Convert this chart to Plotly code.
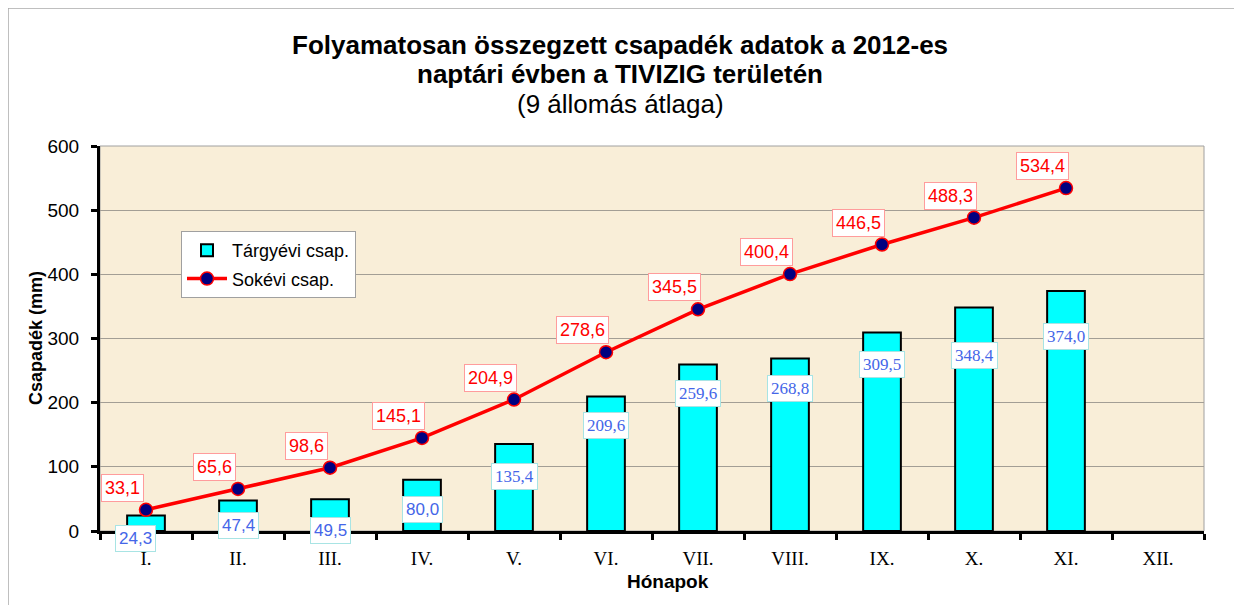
import plotly.graph_objects as go

months = ["I.", "II.", "III.", "IV.", "V.", "VI.", "VII.", "VIII.", "IX.", "X.", "XI.", "XII."]
targyevi = [24.3, 47.4, 49.5, 80.0, 135.4, 209.6, 259.6, 268.8, 309.5, 348.4, 374.0, None]
sokevi = [33.1, 65.6, 98.6, 145.1, 204.9, 278.6, 345.5, 400.4, 446.5, 488.3, 534.4, None]
y_ticks = [0, 100, 200, 300, 400, 500, 600]
title_lines = ["<b>Folyamatosan összegzett csapadék adatok a 2012-es</b>",
               "<b>naptári évben a TIVIZIG területén</b>",
               "(9 állomás átlaga)"]

# label styling (pixel offsets below bar tops, fonts)
bar_label_drop = [23, 25, 31, 30, 32, 29, 29, 30, 32, 48, 45]
bar_label_fonts = ["Liberation Sans"] * 4 + ["Liberation Serif"] * 7

def fmt(v):
    return f"{v:.1f}".replace(".", ",")

# page offset of the figure inside the browser page (body margin)
OFF = 8
W, H = 1242 - OFF, 605 - OFF
# plot area in page pixels
PL, PR, PT, PB = 100, 1204, 146, 531
L, R, T = PL - OFF, W - (PR - OFF), PT - OFF
B = H - (PB - OFF)
pw, ph = W - L - R, H - T - B

def px_x(p):  # page px -> paper x
    return (p - OFF - L) / pw

def px_y(p):  # page px -> paper y
    return (PB - p) / ph

fig = go.Figure()
fig.add_trace(go.Bar(
    x=months, y=targyevi, name="Tárgyévi csap.",
    marker=dict(color="#00FFFF", line=dict(color="black", width=2)),
    legendgroup="a",
))
fig.add_trace(go.Scatter(
    x=months, y=sokevi, name="Sokévi csap.", mode="lines+markers",
    line=dict(color="#FF0000", width=3.5),
    marker=dict(color="#000080", size=13, line=dict(color="#FF0000", width=1.5)),
    legendgroup="b",
))

ann = []
for i, v in enumerate(targyevi):
    if v is None:
        continue
    ann.append(dict(
        x=months[i], y=v, xref="x", yref="y", text=fmt(v), showarrow=False,
        yshift=-bar_label_drop[i], xshift=-11 if i == 0 else 0,
        font=dict(family=bar_label_fonts[i], size=17, color="#4466E8"),
        bgcolor="white", bordercolor="#A8E4E4", borderwidth=1, borderpad=3,
    ))
for i, v in enumerate(sokevi):
    if v is None:
        continue
    ann.append(dict(
        x=months[i], y=v, xref="x", yref="y", text=fmt(v), showarrow=False,
        yshift=22, xshift=-24,
        font=dict(family="Liberation Sans", size=18, color="#FF0000"),
        bgcolor="white", bordercolor="#FF9C9C", borderwidth=1, borderpad=3,
    ))

# title lines
for line, py in zip(title_lines, [45, 74, 104]):
    ann.append(dict(x=px_x(620), y=px_y(py), xref="paper", yref="paper", text=line,
                    xanchor="center", yanchor="middle", showarrow=False,
                    font=dict(family="Liberation Sans", size=26, color="black")))

# axis titles
ann.append(dict(x=px_x(36), y=px_y(338), xref="paper", yref="paper", text="<b>Csapadék (mm)</b>",
                textangle=-90, showarrow=False, xanchor="center", yanchor="middle",
                font=dict(family="Liberation Sans", size=18, color="black")))
ann.append(dict(x=px_x(668), y=px_y(581), xref="paper", yref="paper", text="<b>Hónapok</b>",
                showarrow=False, xanchor="center", yanchor="middle",
                font=dict(family="Liberation Sans", size=19, color="black")))

shapes = [
    # plot area border
    dict(type="rect", xref="paper", yref="paper", x0=0, x1=1, y0=0, y1=1,
         line=dict(color="#A0A0A0", width=1), layer="below"),
    # outer border (top & left)
    dict(type="line", xref="paper", yref="paper", x0=px_x(OFF), x1=px_x(1242), y0=px_y(OFF), y1=px_y(OFF),
         line=dict(color="#AAAAAA", width=1.5)),
    dict(type="line", xref="paper", yref="paper", x0=px_x(OFF), x1=px_x(OFF), y0=px_y(OFF), y1=px_y(605),
         line=dict(color="#AAAAAA", width=1.5)),
]

fig.update_layout(
    width=W, height=H,
    margin=dict(l=L, r=R, t=T, b=B, autoexpand=False),
    paper_bgcolor="white",
    plot_bgcolor="#F9EED8",
    bargap=0.59,
    showlegend=True,
    legend=dict(
        x=px_x(181), y=px_y(231), xanchor="left", yanchor="top",
        bgcolor="white", bordercolor="#A0A0A0", borderwidth=1,
        font=dict(family="Liberation Sans", size=18, color="black"),
        traceorder="grouped", tracegroupgap=2, itemwidth=40,
    ),
    xaxis=dict(
        type="category", range=[-0.5, 11.5],
        showline=True, linecolor="black", linewidth=3,
        ticks="outside", tickson="boundaries", ticklen=6, tickwidth=3, tickcolor="black",
        tickfont=dict(family="Liberation Serif", size=19, color="black"),
        ticklabelstandoff=8,
        showgrid=False,
    ),
    yaxis=dict(
        range=[0, 600], tickvals=y_ticks,
        showline=True, linecolor="black", linewidth=3,
        ticks="outside", ticklen=6, tickwidth=3, tickcolor="black",
        tickfont=dict(family="Liberation Sans", size=19, color="black"),
        ticklabelstandoff=8,
        showgrid=True, gridcolor="#A39E95", gridwidth=1,
        zeroline=False,
    ),
    annotations=ann,
    shapes=shapes,
)

fig.write_html("out.html")
